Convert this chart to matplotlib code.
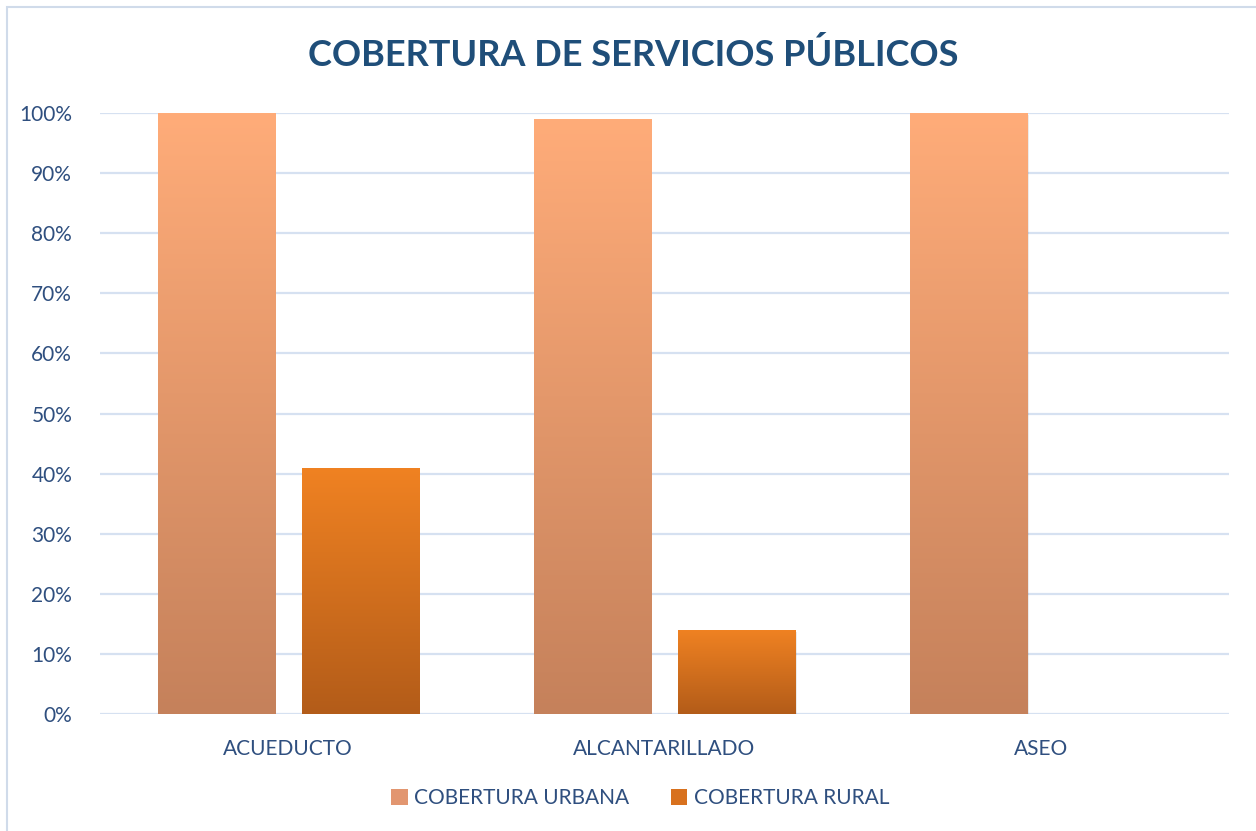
import numpy as np
import matplotlib.pyplot as plt
from matplotlib.colors import LinearSegmentedColormap
from matplotlib.patches import Rectangle, Patch

plt.rcParams['font.family'] = ['Lato', 'DejaVu Sans']

# data
categorias = ['ACUEDUCTO', 'ALCANTARILLADO', 'ASEO']
urbana = [100, 99, 100]
rural = [41, 14, 0]
series = ['COBERTURA URBANA', 'COBERTURA RURAL']

azul = '#1F4E79'
texto = '#2F4F7F'

fig = plt.figure(figsize=(12.56, 8.31), dpi=100)
ax = fig.add_axes([100 / 1256, 1 - 714 / 831, 1129 / 1256, 601 / 831])

x = np.arange(len(categorias))
ancho = 0.311
off = 0.1915

b1 = ax.bar(x - off, urbana, ancho, color='none', zorder=3)
b2 = ax.bar(x + off, rural, ancho, color='none', zorder=3)

# gradient fill for every bar
cm_urb = LinearSegmentedColormap.from_list('urb', ['#C5815B', '#FFAC79'])
cm_rur = LinearSegmentedColormap.from_list('rur', ['#B35C19', '#F08222'])
grad = np.linspace(0, 1, 256).reshape(-1, 1)
for barras, cm in [(b1, cm_urb), (b2, cm_rur)]:
    for b in barras:
        h = b.get_height()
        if h <= 0:
            continue
        x0 = b.get_x()
        w = b.get_width()
        # soft shadow
        ax.add_patch(Rectangle((x0 + 0.004, -0.3), w, h, color='#000000', alpha=0.08, zorder=2.5, lw=0))
        im = ax.imshow(grad, cmap=cm, origin='lower', aspect='auto',
                       extent=(x0, x0 + w, 0, h), zorder=3)
        im.set_clip_path(b)

ax.set_xlim(-0.5, 2.5)
ax.set_ylim(0, 100)

ax.set_yticks(np.arange(0, 101, 10))
ax.set_yticklabels([f'{v}%' for v in range(0, 101, 10)])
ax.set_xticks(x)
ax.set_xticklabels(categorias)
ax.grid(axis='y', color='#D6E1F1', lw=1.6, zorder=0)
ax.set_axisbelow(True)
for s in ax.spines.values():
    s.set_visible(False)
ax.tick_params(axis='both', length=0, labelsize=15, labelcolor=texto)
ax.tick_params(axis='y', pad=20)
ax.tick_params(axis='x', pad=18)

fig.text(633 / 1256, 1 - 55 / 831, 'COBERTURA DE SERVICIOS PÚBLICOS', ha='center', va='center',
         fontsize=26, fontweight='bold', color=azul)

handles = [Patch(facecolor='#E29670', label=series[0]),
           Patch(facecolor='#D8711E', label=series[1])]
fig.legend(handles=handles, loc='center', bbox_to_anchor=(640 / 1256, 1 - 798 / 831), ncol=2,
           frameon=False, fontsize=15, labelcolor=texto, handlelength=0.8, handleheight=0.8,
           handletextpad=0.3, columnspacing=2.0)

# chart border
fig.patches.append(Rectangle((7 / 1256, -0.01), 1.02, 1 - 7 / 831 + 0.01, transform=fig.transFigure,
                             fill=False, edgecolor='#D0DBEA', lw=1.5))

fig.savefig('out.png', dpi=100)
